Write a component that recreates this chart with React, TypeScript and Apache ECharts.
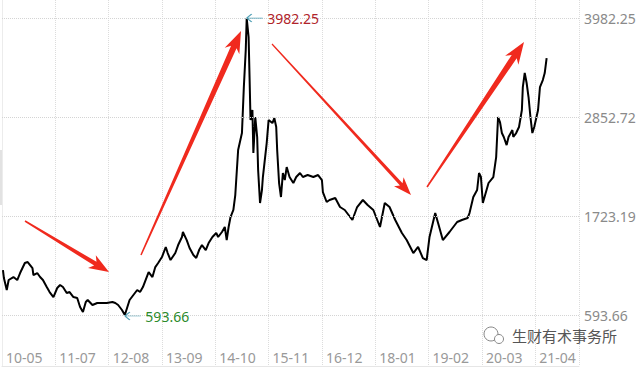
import React, { useEffect, useRef } from "react";
import * as echarts from "echarts";

// x-axis tick labels (one every 56 index units)
const xTicks = ["10-05", "11-07", "12-08", "13-09", "14-10", "15-11", "16-12", "18-01", "19-02", "20-03", "21-04"];
// y-axis tick labels
const yTicks = [593.66, 1723.19, 2852.72, 3982.25];

// time index (roughly weekly) and index level
const weeks = [
  1, 2, 5, 7, 12, 16, 19, 24, 27, 32, 33, 37, 40, 43, 47, 50, 54, 58, 61, 64, 68, 71, 75, 79, 82, 85, 88, 90, 95, 100,
  105, 110, 116, 119, 122, 126, 129, 132, 134, 138, 142, 145, 148, 152, 154, 158, 161, 164, 168, 172, 174, 177, 182,
  185, 189, 190, 194, 197, 201, 204, 207, 210, 214, 217, 221, 225, 227, 231, 234, 236, 238, 240, 243, 245, 248, 252,
  254, 256, 257, 259, 260, 261, 263, 264, 266, 268, 269, 271, 273, 274, 278, 280, 284, 286, 288, 289, 291, 293, 295,
  297, 299, 302, 306, 309, 313, 316, 321, 327, 332, 336, 337, 341, 344, 350, 355, 360, 368, 373, 379, 384, 390, 397,
  402, 407, 413, 420, 425, 432, 437, 442, 446, 449, 455, 458, 463, 470, 478, 483, 489, 491, 495, 499, 501, 503, 505,
  508, 511, 516, 519, 521, 523, 525, 527, 530, 532, 536, 537, 540, 543, 546, 547, 549, 551, 553, 555, 557, 559, 563,
  565, 568, 570, 572,
];
const closes = [
  1107, 1016, 879, 993, 1027, 993, 1073, 1187, 1198, 1130, 1050, 1073, 1027, 993, 913, 856, 799, 902, 936, 913, 845,
  856, 799, 788, 685, 628, 742, 765, 708, 731, 731, 731, 742, 731, 708, 651, 593.66, 696, 765, 822, 879, 856, 913,
  1027, 1084, 1027, 1141, 1187, 1255, 1370, 1301, 1221, 1301, 1392, 1484, 1541, 1449, 1358, 1278, 1244, 1335, 1392,
  1335, 1415, 1484, 1529, 1484, 1541, 1598, 1449, 1598, 1712, 1792, 1963, 2476, 2670, 3195, 3617, 3982.25, 3766,
  3309, 2818, 2933, 2442, 2853, 2625, 2248, 1872, 2020, 2168, 2556, 2818, 2784, 2841, 2739, 2476, 2100, 1940, 2214,
  2134, 2282, 2168, 2100, 2168, 2214, 2168, 2191, 2168, 2191, 2134, 1997, 1883, 1906, 1929, 1826, 1792, 1678, 1826,
  1906, 1849, 1792, 1598, 1872, 1826, 1678, 1529, 1449, 1301, 1370, 1244, 1221, 1484, 1757, 1643, 1449, 1541, 1655,
  1678, 1700, 1757, 1940, 2020, 2214, 2168, 1872, 1986, 2100, 2168, 2396, 2853, 2796, 2670, 2625, 2533, 2625, 2704,
  2625, 2670, 2739, 2933, 3195, 3355, 3241, 3081, 2853, 2670, 2739, 2933, 3195, 3275, 3355, 3526,
];

// red annotation arrows: [tailX, tailY, tipX, tipY, tailW, shaftW, headW, headL]
const redArrows = [
  [25, 221, 109, 272, 1.5, 4.5, 15, 20],
  [141, 255, 241, 31, 1.5, 6, 16, 22],
  [272, 44, 411, 195, 1.2, 3.5, 13, 18],
  [427, 187, 524, 42, 1.5, 6, 16, 22],
];

function arrowPoints(a: number[]) {
  const [x1, y1, x2, y2, wT, wS, hW, hL] = a;
  const dx = x2 - x1, dy = y2 - y1;
  const len = Math.hypot(dx, dy);
  const ux = dx / len, uy = dy / len;
  const nx = -uy, ny = ux;
  const bx = x2 - ux * hL, by = y2 - uy * hL;
  const bx2 = x2 - ux * hL * 0.8, by2 = y2 - uy * hL * 0.8;
  return [
    [x1 + (nx * wT) / 2, y1 + (ny * wT) / 2],
    [bx2 + (nx * wS) / 2, by2 + (ny * wS) / 2],
    [bx + (nx * hW) / 2, by + (ny * hW) / 2],
    [x2, y2],
    [bx - (nx * hW) / 2, by - (ny * hW) / 2],
    [bx2 - (nx * wS) / 2, by2 - (ny * wS) / 2],
    [x1 - (nx * wT) / 2, y1 - (ny * wT) / 2],
  ];
}

const FONT = "'Noto Sans', 'Noto Sans CJK SC', sans-serif";
const arrowSym = "path://M0,4 L5,0 M0,4 L5,8 M0,4 L16,4";

export default function App() {
  const ref = useRef<HTMLDivElement>(null);
  useEffect(() => {
    if (!ref.current) return;
    const chart = echarts.init(ref.current, null, { renderer: "svg" });
    const maxV = Math.max(...closes);
    const minV = Math.min(...closes);
    const maxI = closes.indexOf(maxV);
    const minI = closes.indexOf(minV);
    chart.setOption({
      animation: false,
      backgroundColor: "#fff",
      grid: { left: 2, right: 61, top: 0, bottom: 3, containLabel: false },
      xAxis: {
        type: "value",
        min: 0,
        max: 606,
        interval: 56,
        axisLine: { show: true, lineStyle: { color: "#e6e6e6" } },
        axisTick: { show: false },
        splitLine: { show: true, lineStyle: { color: "#dcdcdc", type: "dotted", width: 1 } },
        axisLabel: {
          inside: true,
          margin: 2,
          align: "left",
          padding: [0, 0, 0, 4],
          color: "#999",
          fontSize: 14,
          fontFamily: FONT,
          showMaxLabel: false,
          formatter: (v: number) => {
            const k = v / 56;
            return Number.isInteger(k) && k < xTicks.length ? xTicks[k] : "";
          },
        },
      },
      yAxis: {
        type: "value",
        position: "right",
        min: 12,
        max: 4188,
        axisLine: { show: true, lineStyle: { color: "#ececec" } },
        axisTick: { show: false },
        axisLabel: { show: false },
        splitLine: { show: false },
      },
      series: [
        {
          type: "line",
          data: weeks.map((w, i) => [w, closes[i]]),
          showSymbol: false,
          symbol: "none",
          lineStyle: { color: "#000", width: 2 },
          z: 3,
          markLine: {
            silent: true,
            symbol: ["none", "none"],
            lineStyle: { color: "#d4d4d4", type: "dotted", width: 1 },
            label: {
              position: "end",
              distance: 5,
              color: "#8a8a8a",
              fontSize: 14,
              fontFamily: FONT,
              formatter: (p: any) => Number(p.value).toFixed(2),
            },
            data: yTicks.map((v) => ({ yAxis: v })),
          },
          markPoint: {
            silent: true,
            symbol: arrowSym,
            symbolSize: [16, 8],
            itemStyle: { color: "none", borderColor: "#4f9fb5", borderWidth: 1 },
            data: [
              {
                coord: [weeks[maxI], maxV],
                symbolOffset: [8, 0],
                label: {
                  show: true,
                  position: "right",
                  distance: 1,
                  formatter: maxV.toFixed(2),
                  color: "#b0232a",
                  fontSize: 14,
                  fontFamily: FONT,
                },
              },
              {
                coord: [weeks[minI], minV],
                symbolOffset: [8, 1],
                label: {
                  show: true,
                  position: "right",
                  distance: 1,
                  formatter: minV.toFixed(2),
                  color: "#2b8a2b",
                  fontSize: 14,
                  fontFamily: FONT,
                },
              },
            ],
          },
        },
      ],
      graphic: [
        ...redArrows.map((a) => ({
          type: "polygon",
          shape: { points: arrowPoints(a) },
          style: { fill: "#f02a1e" },
          z: 10,
        })),
        { type: "rect", shape: { x: 0, y: 150, width: 2, height: 55 }, style: { fill: "#e2e2e2" }, z: 1 },
        {
          type: "circle",
          shape: { cx: 491, cy: 334, r: 7 },
          style: { fill: "none", stroke: "#888", lineWidth: 1 },
          z: 10,
        },
        {
          type: "circle",
          shape: { cx: 499, cy: 339, r: 4.5 },
          style: { fill: "#fff", stroke: "#888", lineWidth: 1 },
          z: 11,
        },
        {
          type: "text",
          x: 512,
          y: 335,
          style: {
            text: "生财有术事务所",
            fill: "#555",
            font: "15px 'Noto Sans CJK SC', sans-serif",
            verticalAlign: "middle",
          },
          z: 10,
        },
      ],
    });
    return () => chart.dispose();
  }, []);
  return <div ref={ref} style={{ width: 640, height: 369, position: "absolute", left: 0, top: 0 }} />;
}
